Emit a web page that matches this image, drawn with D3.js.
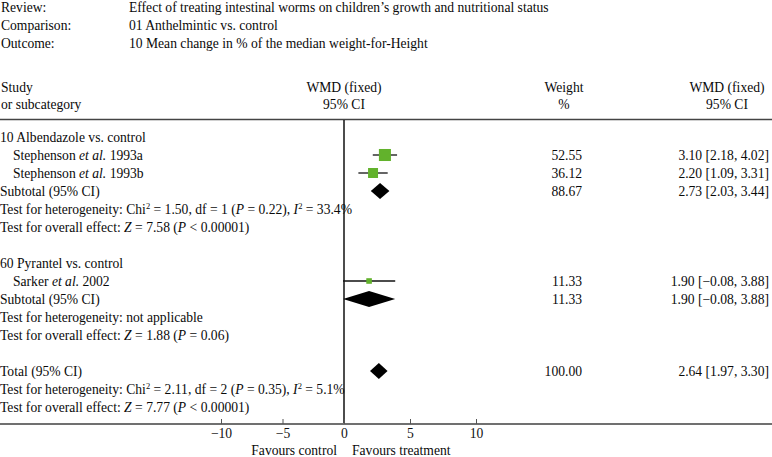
<!DOCTYPE html>
<html>
<head>
<meta charset="utf-8">
<script src="https://cdn.jsdelivr.net/npm/d3@7"></script>
<style>
  body { margin: 0; background: #fff; }
  svg text { font-family: "Liberation Serif", "DejaVu Serif", serif; font-size: 13.6px; fill: #0a0a0a; }
</style>
</head>
<body>
<div id="main"></div>
<script>
// header info
const headerLabels = ["Review:", "Comparison:", "Outcome:"];
const headerValues = ["Effect of treating intestinal worms on children\u2019s growth and nutritional status",
    "01 Anthelmintic vs. control",
    "10 Mean change in % of the median weight-for-Height"];

// groups
const groupNames = ["10 Albendazole vs. control", "60 Pyrantel vs. control"];

// individual studies
const studyAuthors = ["Stephenson", "Stephenson", "Sarker"];
const studyYears = ["1993a", "1993b", "2002"];
const studyGroup = [0, 0, 1];
const studyMeans = [3.10, 2.20, 1.90];
const studyLower = [2.18, 1.09, -0.08];
const studyUpper = [4.02, 3.31, 3.88];
const studyWeights = [52.55, 36.12, 11.33];

// subtotals (two groups) then total
const pooledLabels = ["Subtotal (95% CI)", "Subtotal (95% CI)", "Total (95% CI)"];
const pooledMeans = [2.73, 1.90, 2.64];
const pooledLower = [2.03, -0.08, 1.97];
const pooledUpper = [3.44, 3.88, 3.30];
const pooledWeights = [88.67, 11.33, 100.00];

// heterogeneity / overall effect
const hetChi = [1.50, null, 2.11];
const hetDf = [1, null, 2];
const hetP = [0.22, null, 0.35];
const hetI2 = [33.4, null, 5.1];
const overallZ = [7.58, 1.88, 7.77];
const overallP = ["< 0.00001", "= 0.06", "< 0.00001"];

const xTicks = [-10, -5, 0, 5, 10];

const w = 772, h = 457;
const svg = d3.select("#main").append("svg").attr("width", w).attr("height", h);

const fmt2 = d3.format(".2f");

// polylinear scale, the printed axis is a bit uneven
const x = d3.scaleLinear().domain([-10, 0, 10]).range([221, 344, 476]);
const size = d3.scaleSqrt().domain([0, 100]).range([0, 16.6]);

// rows of the table body
var rows = [];
groupNames.forEach(function (g, gi) {
    rows.push({type: "group", g: gi});
    studyGroup.forEach(function (sg, si) {
        if (sg === gi) rows.push({type: "study", i: si});
    });
    rows.push({type: "pooled", i: gi});
    rows.push({type: "het", i: gi});
    rows.push({type: "overall", i: gi});
    rows.push({type: "blank"});
});
rows.push({type: "pooled", i: 2});
rows.push({type: "het", i: 2});
rows.push({type: "overall", i: 2});

const y = d3.scaleLinear().domain([0, rows.length - 1]).range([137, 137 + 18 * (rows.length - 1)]);
const base = 4.7; // baseline offset from row centre

// rich text helper: segments [text, style]
function rich(sel, segs) {
    segs.forEach(function (s) {
        var t = sel.append("tspan").text(s[0]);
        if (s[1] === "i") t.style("font-style", "italic");
        if (s[1] === "sup") t.attr("dy", -5).style("font-size", "8.5px");
        if (s[1] === "down") t.attr("dy", 5);
    });
}

// header block
headerLabels.forEach(function (l, i) {
    svg.append("text").attr("x", 1).attr("y", 7 + 18 * i + base).text(l);
    svg.append("text").attr("x", 129).attr("y", 7 + 18 * i + base).text(headerValues[i]);
});

// column titles
const colHead = [["Study", "or subcategory", 1, "start"], ["WMD (fixed)", "95% CI", 344, "middle"],
    ["Weight", "%", 564, "middle"], ["WMD (fixed)", "95% CI", 727, "middle"]];
colHead.forEach(function (c) {
    svg.append("text").attr("x", c[2]).attr("y", 87 + base).attr("text-anchor", c[3]).text(c[0]);
    svg.append("text").attr("x", c[2]).attr("y", 104 + base).attr("text-anchor", c[3]).text(c[1]);
});

svg.append("line").attr("x1", 0).attr("x2", w).attr("y1", 119.5).attr("y2", 119.5)
    .attr("stroke", "#444").attr("stroke-width", 1.5);

// zero line
svg.append("line").attr("x1", x(0)).attr("x2", x(0)).attr("y1", 120).attr("y2", 424)
    .attr("stroke", "#111").attr("stroke-width", 1.5);

// body rows
rows.forEach(function (r, ri) {
    var cy = y(ri);
    if (r.type === "group") {
        svg.append("text").attr("x", 0).attr("y", cy + base).text(groupNames[r.g]);
    } else if (r.type === "study") {
        var i = r.i;
        rich(svg.append("text").attr("x", 13).attr("y", cy + base),
            [[studyAuthors[i] + " "], ["et al.", "i"], [" " + studyYears[i]]]);
        svg.append("line").attr("x1", x(studyLower[i])).attr("x2", x(studyUpper[i]))
            .attr("y1", cy).attr("y2", cy).attr("stroke", "#111").attr("stroke-width", 1.3);
        var s = size(studyWeights[i]);
        svg.append("rect").attr("x", x(studyMeans[i]) - s / 2).attr("y", cy - s / 2)
            .attr("width", s).attr("height", s).attr("fill", "#62b22c");
        svg.append("text").attr("x", 582).attr("y", cy + base).attr("text-anchor", "end")
            .text(fmt2(studyWeights[i]));
        svg.append("text").attr("x", 769).attr("y", cy + base).attr("text-anchor", "end")
            .text(fmt2(studyMeans[i]) + " [" + fmt2(studyLower[i]) + ", " + fmt2(studyUpper[i]) + "]");
    } else if (r.type === "pooled") {
        var j = r.i;
        svg.append("text").attr("x", 0).attr("y", cy + base).text(pooledLabels[j]);
        var pts = [[x(pooledLower[j]), cy], [x(pooledMeans[j]), cy - 8],
            [x(pooledUpper[j]), cy], [x(pooledMeans[j]), cy + 8]];
        svg.append("path").attr("d", d3.line()(pts) + "Z").attr("fill", "#000");
        svg.append("text").attr("x", 582).attr("y", cy + base).attr("text-anchor", "end")
            .text(fmt2(pooledWeights[j]));
        svg.append("text").attr("x", 769).attr("y", cy + base).attr("text-anchor", "end")
            .text(fmt2(pooledMeans[j]) + " [" + fmt2(pooledLower[j]) + ", " + fmt2(pooledUpper[j]) + "]");
    } else if (r.type === "het") {
        var k = r.i;
        var t = svg.append("text").attr("x", 0).attr("y", cy + base);
        if (hetChi[k] === null) {
            rich(t, [["Test for heterogeneity: not applicable"]]);
        } else {
            rich(t, [["Test for heterogeneity: Chi"], ["2", "sup"], [" = " + fmt2(hetChi[k]) + ", df = " + hetDf[k] + " (", "down"],
                ["P", "i"], [" = " + fmt2(hetP[k]) + "), "], ["I", "i"], ["2", "sup"],
                [" = " + hetI2[k].toFixed(1) + "%", "down"]]);
        }
    } else if (r.type === "overall") {
        rich(svg.append("text").attr("x", 0).attr("y", cy + base),
            [["Test for overall effect: "], ["Z", "i"], [" = " + fmt2(overallZ[r.i]) + " ("], ["P", "i"],
                [" " + overallP[r.i] + ")"]]);
    }
});

// axis
svg.append("line").attr("x1", 0).attr("x2", w).attr("y1", 424).attr("y2", 424)
    .attr("stroke", "#707070").attr("stroke-width", 2);

const xAxis = d3.axisBottom(x).tickValues(xTicks).tickSize(-5).tickPadding(4);
const gx = svg.append("g").attr("transform", "translate(0,424)").call(xAxis);
gx.select(".domain").remove();
gx.selectAll("line").attr("stroke", "#555");
gx.selectAll("text").attr("font-family", null).attr("font-size", null).style("fill", "#111");

svg.append("text").attr("x", 337).attr("y", 450 + base).attr("text-anchor", "end").text("Favours control");
svg.append("text").attr("x", 352).attr("y", 450 + base).text("Favours treatment");
</script>
</body>
</html>
